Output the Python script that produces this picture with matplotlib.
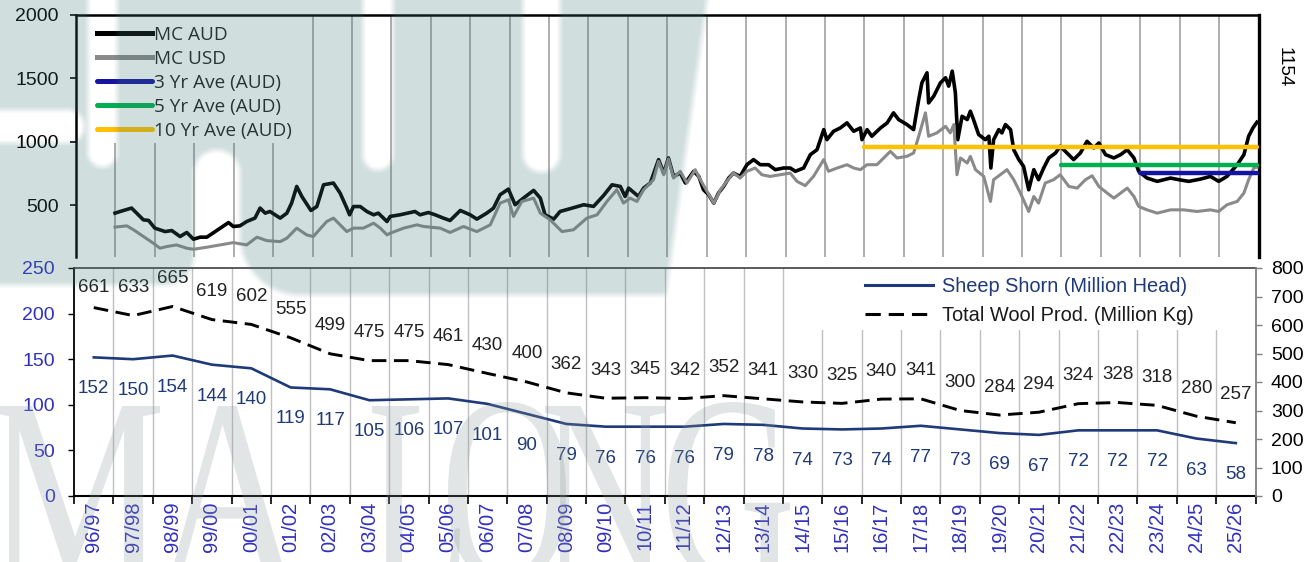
import numpy as np
import matplotlib
matplotlib.use("Agg")
import matplotlib.pyplot as plt
from matplotlib.patches import Rectangle, PathPatch
from matplotlib.textpath import TextPath
from matplotlib.font_manager import FontProperties
from matplotlib.transforms import Affine2D
from matplotlib.lines import Line2D

plt.rcParams["font.family"] = ["Liberation Sans", "DejaVu Sans"]

# ---------------------------------------------------------------- data
seasons = ["96/97", "97/98", "98/99", "99/00", "00/01", "01/02", "02/03", "03/04",
           "04/05", "05/06", "06/07", "07/08", "08/09", "09/10", "10/11", "11/12",
           "12/13", "13/14", "14/15", "15/16", "16/17", "17/18", "18/19", "19/20",
           "20/21", "21/22", "22/23", "23/24", "24/25", "25/26"]
sheep_shorn = [152, 150, 154, 144, 140, 119, 117, 105, 106, 107, 101, 90, 79, 76, 76,
               76, 79, 78, 74, 73, 74, 77, 73, 69, 67, 72, 72, 72, 63, 58]
wool_prod = [661, 633, 665, 619, 602, 555, 499, 475, 475, 461, 430, 400, 362, 343, 345,
             342, 352, 341, 330, 325, 340, 341, 300, 284, 294, 324, 328, 318, 280, 257]

# Market indicator price series (decimal year, c/kg clean)
mc_aud = [
    (1997.49, 439), (1997.62, 452), (1997.91, 479), (1998.04, 439), (1998.21, 386),
    (1998.34, 382), (1998.50, 321), (1998.76, 294), (1998.93, 302), (1999.14, 255),
    (1999.31, 287), (1999.48, 234), (1999.65, 250), (1999.82, 250), (2000.03, 294),
    (2000.37, 365), (2000.49, 334), (2000.66, 339), (2000.83, 373), (2001.04, 400),
    (2001.17, 479), (2001.30, 439), (2001.42, 452), (2001.68, 400), (2001.85, 439),
    (2001.97, 518), (2002.10, 649), (2002.23, 570), (2002.46, 460), (2002.61, 491),
    (2002.78, 662), (2003.03, 676), (2003.20, 597), (2003.37, 479), (2003.44, 426),
    (2003.54, 491), (2003.71, 491), (2003.88, 452), (2004.05, 426), (2004.17, 439),
    (2004.39, 373), (2004.47, 413), (2004.72, 426), (2005.10, 452), (2005.23, 426),
    (2005.44, 444), (2005.61, 426), (2005.82, 400), (2005.99, 381), (2006.25, 460),
    (2006.50, 426), (2006.67, 392), (2006.92, 439), (2007.09, 478), (2007.26, 584),
    (2007.47, 628), (2007.64, 505), (2007.85, 557), (2008.11, 618), (2008.28, 557),
    (2008.40, 426), (2008.62, 392), (2008.78, 452), (2009.08, 478), (2009.38, 505),
    (2009.63, 492), (2009.88, 576), (2010.10, 662), (2010.31, 649), (2010.43, 570),
    (2010.52, 636), (2010.77, 570), (2010.90, 636), (2011.07, 676), (2011.28, 860),
    (2011.41, 754), (2011.53, 873), (2011.66, 728), (2011.83, 754), (2011.96, 676),
    (2012.17, 768), (2012.30, 728), (2012.42, 623), (2012.55, 584), (2012.68, 518),
    (2012.80, 597), (2012.93, 649), (2013.06, 715), (2013.18, 754), (2013.35, 728),
    (2013.52, 820), (2013.69, 860), (2013.86, 820), (2014.07, 820), (2014.24, 781),
    (2014.45, 794), (2014.62, 794), (2014.75, 768), (2014.96, 794), (2015.13, 899),
    (2015.30, 938), (2015.47, 1096), (2015.55, 1017), (2015.72, 1083), (2015.89, 1109),
    (2016.06, 1149), (2016.23, 1083), (2016.40, 1109), (2016.44, 1017), (2016.57, 1096),
    (2016.69, 1044), (2016.91, 1109), (2017.08, 1149), (2017.24, 1228), (2017.37, 1175),
    (2017.58, 1136), (2017.75, 1096), (2017.88, 1333), (2017.96, 1464), (2018.09, 1543),
    (2018.13, 1306), (2018.26, 1359), (2018.43, 1464), (2018.56, 1504), (2018.64, 1438),
    (2018.73, 1556), (2018.81, 1385), (2018.87, 1017), (2018.98, 1201), (2019.11, 1175),
    (2019.19, 1241), (2019.27, 1175), (2019.40, 1057), (2019.57, 1017), (2019.66, 1044),
    (2019.71, 794), (2019.78, 1017), (2019.91, 1096), (2019.99, 1070), (2020.08, 1136),
    (2020.21, 1096), (2020.29, 938), (2020.42, 860), (2020.54, 807), (2020.67, 623),
    (2020.80, 781), (2020.92, 702), (2021.05, 794), (2021.18, 873), (2021.35, 912),
    (2021.47, 965), (2021.64, 912), (2021.81, 860), (2021.98, 912), (2022.15, 1004),
    (2022.32, 952), (2022.45, 991), (2022.62, 899), (2022.83, 873), (2023.00, 899),
    (2023.17, 938), (2023.34, 873), (2023.46, 768), (2023.67, 715), (2023.93, 689),
    (2024.27, 715), (2024.48, 702), (2024.73, 689), (2025.03, 707), (2025.28, 728),
    (2025.49, 689), (2025.70, 728), (2025.96, 820), (2026.13, 899), (2026.25, 1044),
    (2026.36, 1110), (2026.46, 1154),
]
mc_usd = [
    (1997.49, 329), (1997.79, 339), (1997.96, 308), (1998.21, 255), (1998.46, 203),
    (1998.63, 163), (1998.80, 176), (1999.05, 189), (1999.31, 163), (1999.48, 155),
    (1999.82, 171), (2000.15, 189), (2000.49, 207), (2000.83, 189), (2001.09, 250),
    (2001.34, 223), (2001.68, 215), (2001.85, 242), (2002.10, 321), (2002.35, 268),
    (2002.52, 255), (2002.86, 373), (2003.03, 400), (2003.20, 347), (2003.37, 294),
    (2003.54, 321), (2003.79, 321), (2004.05, 360), (2004.22, 321), (2004.39, 268),
    (2004.47, 281), (2004.81, 321), (2005.15, 347), (2005.32, 334), (2005.74, 321),
    (2005.99, 287), (2006.33, 334), (2006.67, 294), (2007.01, 347), (2007.26, 518),
    (2007.47, 544), (2007.60, 413), (2007.81, 531), (2008.11, 557), (2008.28, 439),
    (2008.53, 386), (2008.83, 294), (2009.12, 308), (2009.46, 400), (2009.72, 426),
    (2009.97, 531), (2010.22, 623), (2010.39, 518), (2010.56, 557), (2010.73, 531),
    (2010.90, 623), (2011.15, 702), (2011.28, 846), (2011.41, 741), (2011.53, 865),
    (2011.66, 715), (2011.83, 768), (2012.00, 676), (2012.21, 781), (2012.34, 702),
    (2012.51, 610), (2012.68, 518), (2012.85, 623), (2013.01, 689), (2013.18, 754),
    (2013.35, 715), (2013.52, 768), (2013.73, 794), (2013.90, 741), (2014.11, 728),
    (2014.37, 741), (2014.62, 754), (2014.79, 689), (2015.00, 655), (2015.21, 728),
    (2015.47, 860), (2015.59, 768), (2015.81, 794), (2016.06, 820), (2016.23, 794),
    (2016.40, 781), (2016.57, 820), (2016.82, 820), (2017.16, 925), (2017.33, 873),
    (2017.58, 886), (2017.75, 912), (2017.88, 1044), (2018.05, 1228), (2018.13, 1044),
    (2018.34, 1070), (2018.56, 1122), (2018.68, 1070), (2018.77, 1136), (2018.85, 741),
    (2018.94, 873), (2019.11, 833), (2019.19, 886), (2019.32, 781), (2019.53, 728),
    (2019.70, 531), (2019.78, 702), (2019.95, 741), (2020.12, 781), (2020.29, 702),
    (2020.46, 597), (2020.67, 452), (2020.80, 570), (2020.92, 518), (2021.09, 676),
    (2021.30, 702), (2021.47, 741), (2021.69, 649), (2021.90, 636), (2022.11, 702),
    (2022.28, 733), (2022.45, 649), (2022.66, 597), (2022.83, 557), (2023.00, 597),
    (2023.17, 636), (2023.34, 570), (2023.46, 492), (2023.67, 465), (2023.93, 439),
    (2024.27, 465), (2024.60, 465), (2024.94, 452), (2025.28, 465), (2025.49, 452),
    (2025.70, 505), (2025.96, 531), (2026.13, 597), (2026.25, 702), (2026.38, 794),
    (2026.46, 800),
]
avg_3yr = 758
avg_5yr = 817
avg_10yr = 958
latest_aud = 1154

# ---------------------------------------------------------------- layout
W, H = 1306, 562
fig = plt.figure(figsize=(W / 100, H / 100), dpi=100, facecolor="white")


def px_axes(x0, x1, y0, y1, **kw):
    return fig.add_axes([x0 / W, 1 - y1 / H, (x1 - x0) / W, (y1 - y0) / H], **kw)


season_mid = 1997 + np.arange(len(seasons))
bounds = np.arange(1996.5, 2027.0, 1.0)
x_lo, x_hi = bounds[0], bounds[-1]

navy = "#1f3a78"
label_blue = "#3030bf"

# ---------------------------------------------------------------- price panel
ax_top = px_axes(76, 1258.5, 14.7, 257)
ax_top.set_xlim(x_lo, x_hi)
ax_top.set_ylim(94, 2000)
for b in bounds[1:-1]:
    ax_top.axvline(b, color="#a8a8a8", lw=1.3, zorder=1)
ax_top.add_patch(Rectangle((0, (257 - 143) / 242.3), (296 - 76) / 1182.5, 1,
                           transform=ax_top.transAxes, fc="white", ec="none", zorder=1.5))

t_aud, v_aud = zip(*mc_aud)
t_usd, v_usd = zip(*mc_usd)
ax_top.plot(t_aud, v_aud, color="black", lw=2.6, zorder=3, label="MC AUD",
            solid_joinstyle="round")
ax_top.plot(t_usd, v_usd, color="#8a8a8a", lw=2.2, zorder=3.2, label="MC USD",
            solid_joinstyle="round")
end = t_aud[-1]
ax_top.plot([2023.5, end], [avg_3yr] * 2, color="#1414a0", lw=3.2,
            solid_capstyle="round", zorder=4, label="3 Yr Ave (AUD)")
ax_top.plot([2021.5, end], [avg_5yr] * 2, color="#00b050", lw=3.2,
            solid_capstyle="round", zorder=4, label="5 Yr Ave (AUD)")
ax_top.plot([2016.5, end], [avg_10yr] * 2, color="#ffc000", lw=3.2,
            solid_capstyle="round", zorder=4, label="10 Yr Ave (AUD)")

ax_top.set_xticks([])
ax_top.set_yticks([500, 1000, 1500, 2000])
ax_top.tick_params(axis="y", length=4.5, width=1.2, pad=8, labelsize=14)
ax_top.spines["bottom"].set_visible(False)
ax_top.spines["left"].set_linewidth(1.8)
ax_top.spines["top"].set_linewidth(1.8)
ax_top.spines["right"].set_linewidth(2.4)

leg_top = ax_top.legend(loc="upper left", bbox_to_anchor=((97 - 76) / 1182.5, 0.955),
                        frameon=False, prop=FontProperties(family="Open Sans", size=13.7),
                        handlelength=2.9, handletextpad=0.12, labelspacing=0.32,
                        borderpad=0, borderaxespad=0)
for txt in leg_top.get_texts():
    txt.set_color("#202020")
for line in leg_top.get_lines():
    line.set_linewidth(3.6)

fig.text(1284 / W, 1 - 67 / H, f"{latest_aud:.0f}", rotation=270,
         ha="center", va="center", fontsize=13.5)

# ---------------------------------------------------------------- supply panel
ax = px_axes(74.1, 1255.5, 268, 496)
ax.set_xlim(x_lo, x_hi)
ax.set_ylim(0, 250)
ax2 = ax.twinx()
ax2.set_ylim(0, 800)

for b in bounds[1:-1]:
    ax.axvline(b, color="#c0c0c0", lw=1.0, zorder=0.5)
ax.add_patch(Rectangle(((810 - 74.1) / 1181.4, (496 - 330) / 228), (1250 - 810) / 1181.4,
                       1, transform=ax.transAxes, fc="white", ec="none", zorder=1))

ax.plot(season_mid, sheep_shorn, color=navy, lw=1.9, zorder=3)
ax2.plot(season_mid, wool_prod, color="black", lw=2.1, ls=(0, (5, 2.6)), zorder=3)

for x, v in zip(season_mid, sheep_shorn):
    ax.annotate(f"{v}", (x, v), xytext=(0, -22.7), textcoords="offset points",
                ha="center", va="center", fontsize=13.5, color=navy)
for i, (x, v) in enumerate(zip(season_mid, wool_prod)):
    lift = 14.4 if i == 0 else 20.2
    ax2.annotate(f"{v}", (x, v), xytext=(0, lift), textcoords="offset points",
                 ha="center", va="center", fontsize=13.5, color="#222222")

ax.set_xticks(bounds)
ax.set_xticklabels([])
ax.set_xticks(season_mid, labels=seasons, minor=True)
ax.tick_params(axis="x", which="major", length=6, width=1.2, color="black")
ax.tick_params(axis="x", which="minor", length=0, pad=4, labelsize=14.5,
               labelrotation=90, labelcolor=label_blue)
ax.set_yticks(range(0, 251, 50))
ax.tick_params(axis="y", length=4, width=1, pad=10, labelsize=14, labelcolor=label_blue)
ax2.set_yticks(range(0, 801, 100))
ax2.tick_params(axis="y", length=4, width=1, pad=7, labelsize=14, color="#808080")

ax.spines["right"].set_visible(False)
ax.spines["left"].set_linewidth(1.3)
ax.spines["bottom"].set_linewidth(1.5)
ax.spines["top"].set_color("#404040")
ax.spines["top"].set_linewidth(1.2)
for s in ("top", "left", "bottom"):
    ax2.spines[s].set_visible(False)
ax2.spines["right"].set_color("#808080")
ax2.spines["right"].set_linewidth(1.3)

handles = [Line2D([], [], color=navy, lw=2.2),
           Line2D([], [], color="black", lw=2.2, ls=(0, (5, 2.6)))]
leg_bot = ax2.legend(handles, ["Sheep Shorn (Million Head)", "Total Wool Prod. (Million Kg)"],
                     loc="upper left", bbox_to_anchor=((865 - 74.1) / 1181.4, (496 - 277) / 228),
                     frameon=False, fontsize=14.4, handlelength=3.4, handletextpad=0.45,
                     labelspacing=0.5, borderpad=0, borderaxespad=0)
for txt, c in zip(leg_bot.get_texts(), [navy, "#1a1a1a"]):
    txt.set_color(c)

# ---------------------------------------------------------------- watermark
ax_wm = fig.add_axes([0, 0, 1, 1], zorder=20)
ax_wm.set_xlim(0, W)
ax_wm.set_ylim(H, 0)
ax_wm.axis("off")

yy, xx = np.mgrid[0:H, 0:W] + 0.5


def rounded_box(x0, x1, y0, y1, r):
    cx = np.clip(xx, x0 + r, x1 - r)
    cy = np.clip(yy, y0 + r, y1 - r)
    return (xx - cx) ** 2 + (yy - cy) ** 2 <= r * r


shape = (rounded_box(-80, 194, -80, 285, 30)
         | (rounded_box(240, 760, -80, 295, 60) & (xx < 707 - 0.14 * yy))
         | ((xx > 180) & (xx < 260) & (yy < 175)))
holes = (rounded_box(88, 117, -80, 167, 14)
         | rounded_box(-80, 84, 110, 143, 16)
         | rounded_box(363, 393, -80, 170, 15)
         | rounded_box(523, 560, -80, 172, 18)
         | rounded_box(194, 240, 150, 700, 23))
mask = (shape & ~holes).astype(float)


def box_blur(a, r):
    k = 2 * r + 1
    for axis in (0, 1):
        pad = [(0, 0), (0, 0)]
        pad[axis] = (r + 1, r)
        c = np.cumsum(np.pad(a, pad, mode="edge"), axis=axis)
        if axis == 0:
            a = (c[k:] - c[:-k]) / k
        else:
            a = (c[:, k:] - c[:, :-k]) / k
    return a


soft = box_blur(mask, 3)
rgba = np.zeros((H, W, 4))
rgba[..., 0] = 63 / 255
rgba[..., 1] = 121 / 255
rgba[..., 2] = 117 / 255
rgba[..., 3] = 0.24 * soft
ax_wm.imshow(rgba, extent=(0, W, H, 0), interpolation="bilinear", aspect="auto")
ax_wm.set_xlim(0, W)
ax_wm.set_ylim(H, 0)

serif = FontProperties(family="Liberation Serif")
letter_boxes = [("M", -8, 160, 406, 578), ("A", 158, 300, 406, 578),
                ("L", 372, 460, 406, 578), ("O", 448, 566, 402, 582),
                ("N", 545, 665, 406, 578), ("G", 668, 790, 402, 582)]
for ch, bx0, bx1, top, bottom in letter_boxes:
    tp = TextPath((0, 0), ch, size=100, prop=serif)
    ext = tp.get_extents()
    tr = (Affine2D().translate(-ext.x0, -ext.y0)
          .scale((bx1 - bx0) / ext.width, -(bottom - top) / ext.height)
          .translate(bx0, bottom))
    ax_wm.add_patch(PathPatch(tr.transform_path(tp), fc=(0.55, 0.6, 0.6), ec="none",
                              alpha=0.25))

fig.savefig("out.png", dpi=100, facecolor="white")
